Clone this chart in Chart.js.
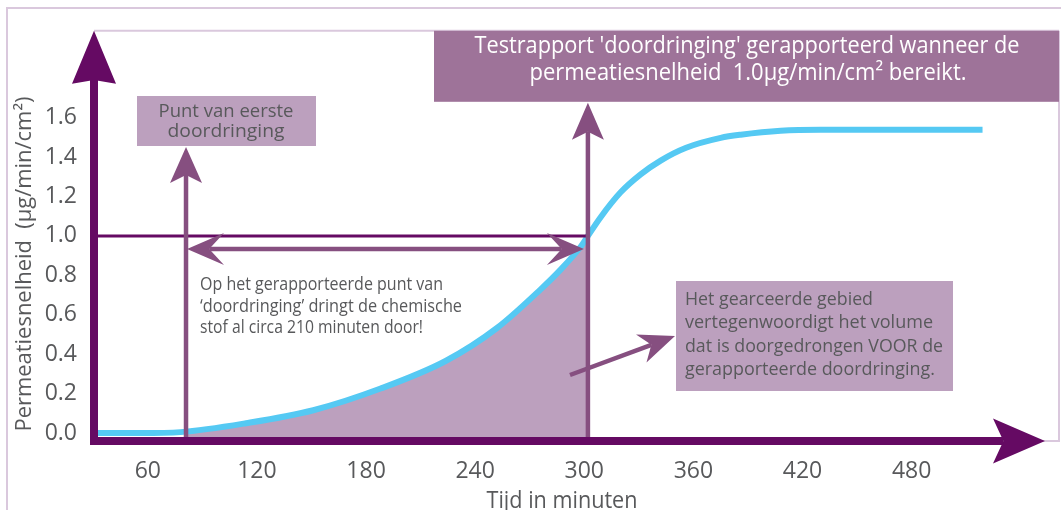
<!DOCTYPE html>
<html><head><meta charset="utf-8">
<script src="https://cdn.jsdelivr.net/npm/chart.js@4.4.1/dist/chart.umd.min.js"></script>
<style>html,body{margin:0;padding:0;background:#fff;overflow:hidden}#wrap{width:1061px;height:510px;position:relative}</style>
</head><body><div id="wrap"><canvas id="c" width="1061" height="510"></canvas></div>
<script>
// ---- data ----
const minutes    = [32, 56, 78, 114, 151, 188, 224, 252, 276, 287, 298, 302, 309, 320, 331, 342, 356, 375, 386, 408, 430, 519];
const permeation = [0, 0, 0.005, 0.05, 0.116, 0.226, 0.367, 0.533, 0.729, 0.829, 0.945, 1.0, 1.095, 1.221, 1.312, 1.382, 1.447, 1.497, 1.513, 1.533, 1.538, 1.538];
const xTickValues = [60, 120, 180, 240, 300, 360, 420, 480];
const yTickValues = [0, 0.2, 0.4, 0.6, 0.8, 1.0, 1.2, 1.4, 1.6];
const threshold = 1.0;
const firstBreakthrough = 81;
const reportedBreakthrough = 302;
const xTitle = 'Tijd in minuten';
const yTitle = 'Permeatiesnelheid  (µg/min/cm²)';
const boxFirst = ['Punt van eerste', 'doordringing'];
const boxReport = ["Testrapport 'doordringing' gerapporteerd wanneer de", 'permeatiesnelheid  1.0µg/min/cm² bereikt.'];
const boxArea = ['Het gearceerde gebied', 'vertegenwoordigt het volume', 'dat is doorgedrongen VOOR de', 'gerapporteerde doordringing.'];
const noteText = ['Op het gerapporteerde punt van', "‘doordringing’ dringt de chemische", 'stof al circa 210 minuten door!'];

const C = {
  axis: '#650a63', arrow: '#864f80', boxDark: '#9e7399', boxLight: '#bca0be',
  fill: '#bca0be', curve: '#55c9f3', text: '#58595b', frame: '#dac8dd'
};
const FONT = '"Open Sans", sans-serif';

function drawText(ctx, text, x, y, size, width, align, color) {
  ctx.save();
  ctx.font = size + 'px ' + FONT;
  const w = ctx.measureText(text).width;
  const sx = width ? width / w : 1;
  const W = w * sx;
  ctx.fillStyle = color;
  ctx.textBaseline = 'alphabetic';
  ctx.textAlign = 'left';
  const x0 = align === 'center' ? x - W / 2 : align === 'right' ? x - W : x;
  ctx.translate(x0, y); ctx.scale(sx, 1); ctx.fillText(text, 0, 0);
  ctx.restore();
}
function arrowHead(ctx, tx, ty, ang, len, half, notch, color) {
  const c = Math.cos(ang), s = Math.sin(ang);
  const bx = tx - c * len, by = ty - s * len;
  ctx.save(); ctx.fillStyle = color; ctx.beginPath();
  ctx.moveTo(tx, ty);
  ctx.lineTo(bx - s * half, by + c * half);
  ctx.lineTo(tx - c * len * notch, ty - s * len * notch);
  ctx.lineTo(bx + s * half, by - c * half);
  ctx.closePath(); ctx.fill(); ctx.restore();
  return [tx - c * len * notch, ty - s * len * notch];
}
function line(ctx, x1, y1, x2, y2, w, color) {
  ctx.save(); ctx.strokeStyle = color; ctx.lineWidth = w; ctx.lineCap = 'butt';
  ctx.beginPath(); ctx.moveTo(x1, y1); ctx.lineTo(x2, y2); ctx.stroke(); ctx.restore();
}

const deco = {
  id: 'deco',
  beforeDraw(chart) {
    const ctx = chart.ctx, a = chart.chartArea;
    ctx.save(); ctx.fillStyle = '#fff'; ctx.fillRect(0, 0, chart.width, chart.height); ctx.restore();
    line(ctx, 6, 8, 1061, 8, 2, C.frame);
    line(ctx, 7, 8, 7, 510, 2, C.frame);
    line(ctx, a.left, a.top, 1059, a.top, 2, C.frame);
    line(ctx, 1059, a.top, 1059, a.bottom + 1, 2, C.frame);
    line(ctx, a.right - 10, a.bottom, 1060, a.bottom, 2, C.frame);
  },
  beforeDatasetsDraw(chart) {
    // shaded area under the curve between first and reported breakthrough
    const ctx = chart.ctx, a = chart.chartArea, xs = chart.scales.x, ys = chart.scales.y;
    const meta = chart.getDatasetMeta(0);
    const pts = meta.data;
    const xF = xs.getPixelForValue(firstBreakthrough), xR = xs.getPixelForValue(reportedBreakthrough);
    const yb = ys.getPixelForValue(-0.03);
    ctx.save();
    ctx.beginPath(); ctx.rect(xF, a.top, xR - xF, a.bottom - a.top); ctx.clip();
    ctx.beginPath();
    meta.dataset.path(ctx);
    ctx.lineTo(pts[pts.length - 1].x, yb);
    ctx.lineTo(pts[0].x, yb);
    ctx.closePath();
    ctx.fillStyle = C.fill; ctx.fill();
    ctx.restore();
  },
  afterDatasetsDraw(chart) {
    const ctx = chart.ctx, a = chart.chartArea, xs = chart.scales.x, ys = chart.scales.y;
    const xF = xs.getPixelForValue(firstBreakthrough), xR = xs.getPixelForValue(reportedBreakthrough);
    const yT = ys.getPixelForValue(threshold);
    line(ctx, a.left, yT, xR, yT, 3, C.axis);
    const bF = {x: 137, y: 96, w: 179, h: 50};
    const bR = {x: 434, y: a.top, w: 1059 - 434, h: 71};
    const bA = {x: 676, y: 281, w: 277, h: 110};
    let n = arrowHead(ctx, xF, bF.y + bF.h + 1, -Math.PI / 2, 36, 16, 0.78, C.arrow);
    line(ctx, xF, a.bottom - 2, xF, n[1], 4.5, C.arrow);
    n = arrowHead(ctx, xR, bR.y + bR.h + 1, -Math.PI / 2, 37, 16, 0.78, C.arrow);
    line(ctx, xR, a.bottom - 2, xR, n[1], 4.5, C.arrow);
    const yD = yT + 13;
    const nl = arrowHead(ctx, xF + 1, yD, Math.PI, 37, 16, 0.6, C.arrow);
    const nr = arrowHead(ctx, xR - 4, yD, 0, 37, 16, 0.6, C.arrow);
    line(ctx, nl[0], yD, nr[0], yD, 4.5, C.arrow);
    const tail = [570, 375], tip = [bA.x - 1, 336];
    const ang = Math.atan2(tip[1] - tail[1], tip[0] - tail[0]);
    const nd = arrowHead(ctx, tip[0], tip[1], ang, 36, 15, 0.7, C.arrow);
    line(ctx, tail[0], tail[1], nd[0], nd[1], 4.5, C.arrow);
    const ax = a.left, ay = a.bottom;
    const ny = arrowHead(ctx, ax, a.top, -Math.PI / 2, 53, 22, 0.93, C.axis);
    line(ctx, ax, ay + 4, ax, ny[1], 8, C.axis);
    const nx = arrowHead(ctx, a.right - 3, ay, 0, 52, 22.5, 0.8, C.axis);
    line(ctx, ax - 4, ay, nx[0], ay, 8, C.axis);
    ctx.save();
    ctx.fillStyle = C.boxLight; ctx.fillRect(bF.x, bF.y, bF.w, bF.h);
    ctx.fillStyle = C.boxDark; ctx.fillRect(bR.x, bR.y, bR.w, bR.h);
    ctx.fillStyle = C.boxLight; ctx.fillRect(bA.x, bA.y, bA.w, bA.h);
    ctx.restore();
    drawText(ctx, boxFirst[0], 226, 117, 19, 135, 'center', C.text);
    drawText(ctx, boxFirst[1], 226, 137, 19, 117, 'center', C.text);
    drawText(ctx, boxReport[0], 747, 53, 23, 545, 'center', '#ffffff');
    drawText(ctx, boxReport[1], 748, 80, 23, 437, 'center', '#ffffff');
    const aw = [188, 248, 258, 250];
    boxArea.forEach((t, i) => drawText(ctx, t, 685, 305 + i * 23.3, 18.5, aw[i], 'left', C.text));
    const nw = [243, 262, 223];
    noteText.forEach((t, i) => drawText(ctx, t, 200, 290 + i * 21.7, 18, nw[i], 'left', C.text));
    drawText(ctx, xTitle, 562, 508, 23, 151, 'center', C.text);
    ctx.save(); ctx.translate(31, 264); ctx.rotate(-Math.PI / 2);
    drawText(ctx, yTitle, 0, 0, 22, 335, 'center', C.text);
    ctx.restore();
  }
};

new Chart(document.getElementById('c'), {
  type: 'line',
  data: {
    datasets: [
      { data: minutes.map((m, i) => ({x: m, y: permeation[i]})), borderColor: C.curve, borderWidth: 6,
        pointRadius: 0, fill: false, cubicInterpolationMode: 'monotone' }
    ]
  },
  options: {
    responsive: false, animation: false, devicePixelRatio: 1,
    layout: { padding: { top: 27, right: 13, left: 0, bottom: 0 } },
    plugins: { legend: { display: false }, tooltip: { enabled: false } },
    scales: {
      x: {
        type: 'linear', min: 30.4, max: 555,
        grid: { display: false, drawTicks: false }, border: { display: false },
        afterBuildTicks: s => { s.ticks = xTickValues.map(v => ({value: v})); },
        afterFit: s => { s.height = 69; },
        ticks: { padding: 17, color: C.text, font: { family: FONT, size: 23 }, maxRotation: 0, autoSkip: false, callback: v => String(v) }
      },
      y: {
        type: 'linear', min: -0.04, max: 2.04,
        grid: { display: false, drawTicks: false }, border: { display: false },
        afterBuildTicks: s => { s.ticks = yTickValues.map(v => ({value: v})); },
        afterFit: s => { s.width = 94; },
        ticks: { padding: 17, color: C.text, font: { family: FONT, size: 23 }, autoSkip: false, callback: v => Number(v).toFixed(1) }
      }
    }
  },
  plugins: [deco]
});
</script></body></html>
